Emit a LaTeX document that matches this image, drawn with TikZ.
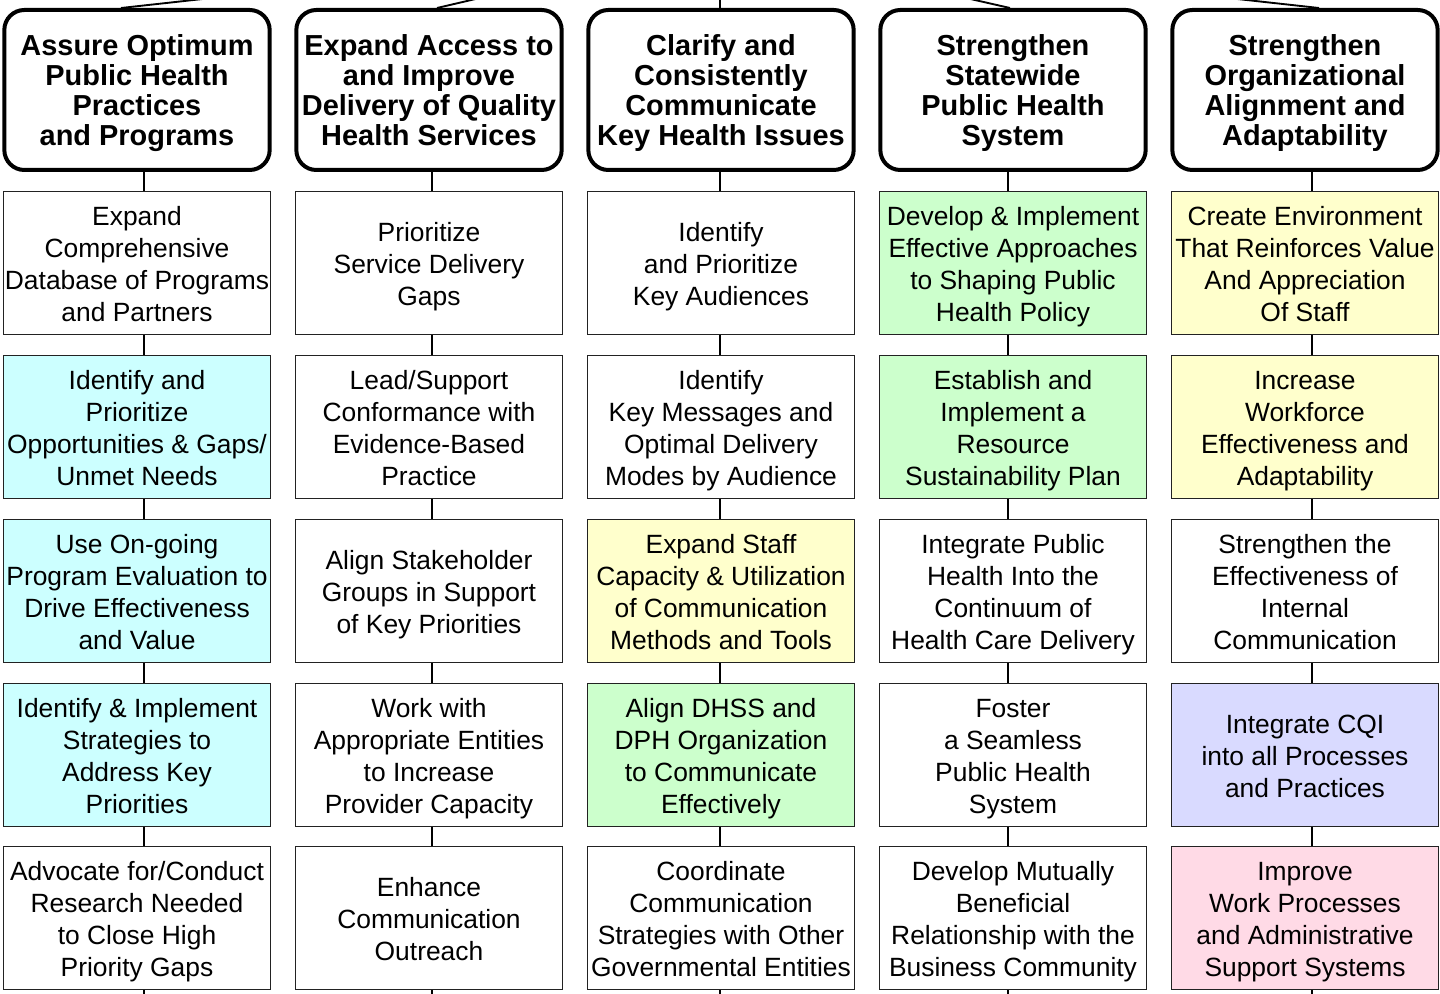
\documentclass[tikz,border=0pt]{standalone}
\usepackage{fontspec}
\setmainfont{Liberation Sans}
\definecolor{cyanF}{HTML}{CCFFFF}
\definecolor{greenF}{HTML}{CCFFCC}
\definecolor{yellowF}{HTML}{FFFFCC}
\definecolor{lavF}{HTML}{D9DAFF}
\definecolor{pinkF}{HTML}{FFDAE6}
\definecolor{boxline}{HTML}{222222}
\newcommand{\hs}{\rule{0pt}{20.7pt}}
\newcommand{\he}{\rule[-5pt]{0pt}{5pt}}
\newcommand{\bs}{\rule{0pt}{20.6pt}}
\newcommand{\be}{\rule[-4.5pt]{0pt}{4.5pt}}
\tikzset{
  head/.style={draw=black, line width=3pt, rounded corners=15pt, fill=white,
    minimum width=199pt, minimum height=120pt, align=center, inner sep=0pt,
    font=\fontsize{21.7}{22.5}\selectfont\bfseries},
  sub/.style={draw=boxline, line width=1.1pt, fill=white,
    minimum width=200pt, minimum height=107pt, align=center, inner sep=0pt,
    font=\fontsize{19.8}{24}\selectfont},
  conn/.style={draw=black, line width=1.4pt},
  topconn/.style={draw=black, line width=1.4pt}
}
\begin{document}
\begin{tikzpicture}[x=0.75pt,y=-0.75pt]
\useasboundingbox (0,0) rectangle (1440,994);
% column connector positions
\coordinate (cx1) at (144,0);
\coordinate (cx2) at (432,0);
\coordinate (cx3) at (720,0);
\coordinate (cx4) at (1008,0);
\coordinate (cx5) at (1312,0);
\coordinate (tx1) at (121,0);
\coordinate (tx2) at (437,0);
\coordinate (tx3) at (720,0);
\coordinate (tx4) at (1010,0);
\coordinate (tx5) at (1319,0);
\coordinate (parent) at (720,-58);
\coordinate (bottom) at (0,1000);

% headers
\node[head] (h1) at (137,90) {\hs Assure Optimum\\Public Health\\Practices\\and Programs\he};
\node[head] (h2) at (429,90) {\hs Expand Access to\\and Improve\\Delivery of Quality\\Health Services\he};
\node[head] (h3) at (721,90) {\hs Clarify and\\Consistently\\Communicate\\Key Health Issues\he};
\node[head] (h4) at (1013,90) {\hs Strengthen\\Statewide\\Public Health\\System\he};
\node[head] (h5) at (1305,90) {\hs Strengthen\\Organizational\\Alignment and\\Adaptability\he};

% column 1
\node[sub] (b11) at (137,263) {\bs Expand\\Comprehensive\\Database of Programs\\and Partners\be};
\node[sub,fill=cyanF] (b12) at (137,427) {\bs Identify and\\Prioritize\\Opportunities \& Gaps/\\Unmet Needs\be};
\node[sub,fill=cyanF] (b13) at (137,591) {\bs Use On-going\\Program Evaluation to\\Drive Effectiveness\\and Value\be};
\node[sub,fill=cyanF] (b14) at (137,755) {\bs Identify \& Implement\\Strategies to\\Address Key\\Priorities\be};
\node[sub] (b15) at (137,918) {\bs Advocate for/Conduct\\Research Needed\\to Close High\\Priority Gaps\be};

% column 2
\node[sub] (b21) at (429,263) {\bs Prioritize\\Service Delivery\\Gaps\be};
\node[sub] (b22) at (429,427) {\bs Lead/Support\\Conformance with\\Evidence-Based\\Practice\be};
\node[sub] (b23) at (429,591) {\bs Align Stakeholder\\Groups in Support\\of Key Priorities\be};
\node[sub] (b24) at (429,755) {\bs Work with\\Appropriate Entities\\to Increase\\Provider Capacity\be};
\node[sub] (b25) at (429,918) {\bs Enhance\\Communication\\Outreach\be};

% column 3
\node[sub] (b31) at (721,263) {\bs Identify\\and Prioritize\\Key Audiences\be};
\node[sub] (b32) at (721,427) {\bs Identify\\Key Messages and\\Optimal Delivery\\Modes by Audience\be};
\node[sub,fill=yellowF] (b33) at (721,591) {\bs Expand Staff\\Capacity \& Utilization\\of Communication\\Methods and Tools\be};
\node[sub,fill=greenF] (b34) at (721,755) {\bs Align DHSS and\\DPH Organization\\to Communicate\\Effectively\be};
\node[sub] (b35) at (721,918) {\bs Coordinate\\Communication\\Strategies with Other\\Governmental Entities\be};

% column 4
\node[sub,fill=greenF] (b41) at (1013,263) {\bs Develop \& Implement\\Effective Approaches\\to Shaping Public\\Health Policy\be};
\node[sub,fill=greenF] (b42) at (1013,427) {\bs Establish and\\Implement a\\Resource\\Sustainability Plan\be};
\node[sub] (b43) at (1013,591) {\bs Integrate Public\\Health Into the\\Continuum of\\Health Care Delivery\be};
\node[sub] (b44) at (1013,755) {\bs Foster\\a Seamless\\Public Health\\System\be};
\node[sub] (b45) at (1013,918) {\bs Develop Mutually\\Beneficial\\Relationship with the\\Business Community\be};

% column 5
\node[sub,fill=yellowF] (b51) at (1305,263) {\bs Create Environment\\That Reinforces Value\\And Appreciation\\Of Staff\be};
\node[sub,fill=yellowF] (b52) at (1305,427) {\bs Increase\\Workforce\\Effectiveness and\\Adaptability\be};
\node[sub] (b53) at (1305,591) {\bs Strengthen the\\Effectiveness of\\Internal\\Communication\be};
\node[sub,fill=lavF] (b54) at (1305,755) {\bs Integrate CQI\\into all Processes\\and Practices\be};
\node[sub,fill=pinkF] (b55) at (1305,918) {\bs Improve\\Work Processes\\and Administrative\\Support Systems\be};

% connectors
\foreach \c in {1,...,5}{
  \draw[conn] (h\c.south -| cx\c) -- (b\c1.north -| cx\c);
  \draw[conn] (b\c1.south -| cx\c) -- (b\c2.north -| cx\c);
  \draw[conn] (b\c2.south -| cx\c) -- (b\c3.north -| cx\c);
  \draw[conn] (b\c3.south -| cx\c) -- (b\c4.north -| cx\c);
  \draw[conn] (b\c4.south -| cx\c) -- (b\c5.north -| cx\c);
  \draw[conn] (b\c5.south -| cx\c) -- (bottom -| cx\c);
}
\begin{scope}
\clip (0,0) rectangle (1440,994);
\foreach \c in {1,...,5}{
  \draw[topconn] (parent) -- (h\c.north -| tx\c);
}
\end{scope}
\end{tikzpicture}
\end{document}
